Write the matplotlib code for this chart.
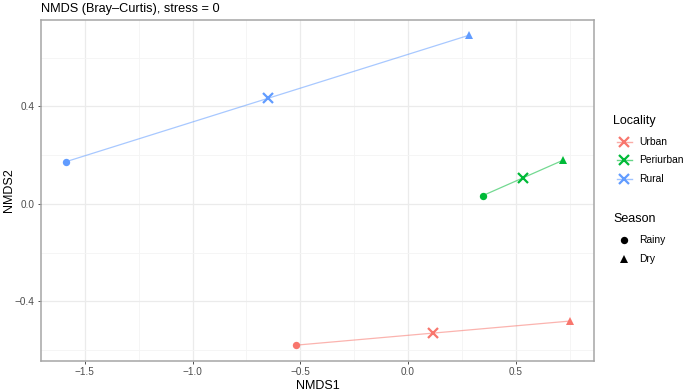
import matplotlib.pyplot as plt

plt.rcParams['font.family'] = ['Liberation Sans', 'DejaVu Sans']

# NMDS scores
localities = ["Urban", "Periurban", "Rural"]
colors = ["#F8766D", "#00BA38", "#619CFF"]
rainy_x = [-0.520, 0.347, -1.588]
rainy_y = [-0.580, 0.034, 0.173]
dry_x = [0.752, 0.721, 0.285]
dry_y = [-0.481, 0.180, 0.693]
cent_x = [0.116, 0.534, -0.652]
cent_y = [-0.531, 0.107, 0.433]

seasons = ["Rainy", "Dry"]
season_markers = ["o", "^"]

xticks = [-1.5, -1.0, -0.5, 0.0, 0.5]
xminor = [-1.25, -0.75, -0.25, 0.25, 0.75]
yticks = [-0.4, 0.0, 0.4]
yminor = [-0.6, -0.2, 0.2, 0.6]

W, H = 685, 392
fig = plt.figure(figsize=(W / 100, H / 100), dpi=100)
ax = fig.add_axes([41 / W, (H - 361) / H, 553 / W, 341 / H])

for i, loc in enumerate(localities):
    c = colors[i]
    ax.plot([rainy_x[i], dry_x[i]], [rainy_y[i], dry_y[i]], color=c, lw=0.9, alpha=0.55, zorder=2)
    ax.plot(rainy_x[i], rainy_y[i], 'o', color=c, ms=5.3, mew=0, zorder=3)
    ax.plot(dry_x[i], dry_y[i], '^', color=c, ms=6.0, mew=0, zorder=3)
    ax.plot(cent_x[i], cent_y[i], 'x', color=c, ms=7.5, mew=1.6, zorder=4)

ax.set_xlim(-1.703, 0.863)
ax.set_ylim(-0.645, 0.755)
ax.set_xticks(xticks)
ax.set_xticklabels([f"{v:.1f}".replace("-", "\u2212") for v in xticks])
ax.set_xticks(xminor, minor=True)
ax.set_yticks(yticks)
ax.set_yticklabels([f"{v:.1f}".replace("-", "\u2212") for v in yticks])
ax.set_yticks(yminor, minor=True)
ax.grid(True, which='major', color='#ebebeb', lw=0.9, zorder=0)
ax.grid(True, which='minor', color='#f4f4f4', lw=0.6, zorder=0)
ax.set_axisbelow(True)
ax.tick_params(which='major', length=2.5, width=0.6, color='#333333', labelsize=7.2, labelcolor='#4d4d4d', pad=2)
ax.tick_params(which='minor', length=0)
for s in ax.spines.values():
    s.set_color('#a6a6a6')
    s.set_linewidth(1.1)

ax.set_xlabel("NMDS1", fontsize=9, labelpad=2)
fig.text(9 / W, 1 - 190 / H, "NMDS2", fontsize=9, rotation=90, va='center', ha='center')
fig.text(41 / W, 1 - 9 / H, "NMDS (Bray\u2013Curtis), stress = 0", fontsize=9.2, va='center', ha='left')

# legend drawn in pixel coordinates
lax = fig.add_axes([0, 0, 1, 1])
lax.set_xlim(0, W)
lax.set_ylim(H, 0)
lax.axis('off')
lax.text(613, 121, "Locality", fontsize=9, va='center', ha='left')
for i, loc in enumerate(localities):
    yy = 141.5 + i * 18.5
    lax.plot([617, 632], [yy, yy], color=colors[i], lw=1.0, alpha=0.6)
    lax.plot(624.5, yy, 'x', color=colors[i], ms=7, mew=1.6)
    lax.text(639, yy, loc, fontsize=7.4, va='center', ha='left')
lax.text(613, 219, "Season", fontsize=9, va='center', ha='left')
for i, s in enumerate(seasons):
    yy = 240 + i * 18.5
    lax.plot(624, yy, season_markers[i], color='black', ms=5.3 if i == 0 else 6.0, mew=0)
    lax.text(639, yy, s, fontsize=7.4, va='center', ha='left')

fig.savefig("out.png", dpi=100)
